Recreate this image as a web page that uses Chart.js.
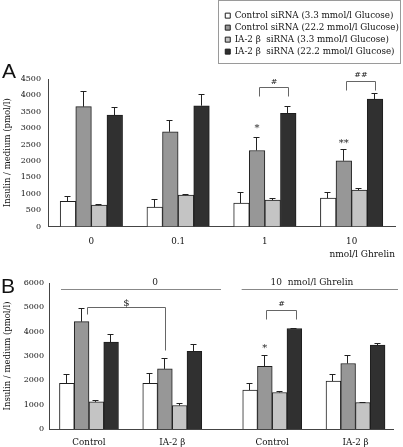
<!DOCTYPE html>
<html><head><meta charset="utf-8">
<script src="https://cdn.jsdelivr.net/npm/chart.js@4"></script>
<style>
html,body{margin:0;padding:0;background:#fff;}
#wrap{position:relative;width:403px;height:447px;background:#fff;overflow:hidden;}
#cA{position:absolute;left:0;top:0;}
#cB{position:absolute;left:0;top:260px;}
#leg{position:absolute;left:218px;top:0px;width:181px;height:62px;border:1px solid #9a9a9a;background:#fff;overflow:hidden;}
#cL{display:block;}
</style></head><body>
<div id="wrap">
<canvas id="cA" width="403" height="260"></canvas>
<canvas id="cB" width="403" height="187"></canvas>
<div id="leg"><canvas id="cL" width="181" height="160"></canvas></div>
</div>
<script>
// ---------------- data ----------------
const seriesNames = [
  'Control siRNA (3.3 mmol/l Glucose)',
  'Control siRNA (22.2 mmol/l Glucose)',
  'IA-2 \u03b2  siRNA (3.3 mmol/l Glucose)',
  'IA-2 \u03b2  siRNA (22.2 mmol/l Glucose)'
];

// Panel A: ghrelin dose (nmol/l)
const catsA = ['0', '0.1', '1', '10'];
const ctl33A = [765, 590, 715, 865];
const ctl33A_err = [170, 235, 335, 175];
const ctl222A = [3655, 2890, 2320, 2005];
const ctl222A_err = [480, 360, 410, 370];
const ia33A = [650, 955, 805, 1110];
const ia33A_err = [40, 35, 60, 70];
const ia222A = [3400, 3685, 3450, 3890];
const ia222A_err = [255, 360, 235, 185];
const yTicksA = [0, 500, 1000, 1500, 2000, 2500, 3000, 3500, 4000, 4500];

// Panel B: siRNA groups, without / with 10 nmol/l ghrelin
const catsB = ['Control', 'IA-2 \u03b2', 'Control', 'IA-2 \u03b2'];
const ctl33B = [1880, 1880, 1600, 1970];
const ctl33B_err = [400, 420, 290, 310];
const ctl222B = [4410, 2470, 2580, 2690];
const ctl222B_err = [580, 450, 450, 360];
const ia33B = [1115, 965, 1500, 1090];
const ia33B_err = [85, 120, 70, 30];
const ia222B = [3570, 3190, 4130, 3450];
const ia222B_err = [320, 310, 20, 95];
const yTicksB = [0, 1000, 2000, 3000, 4000, 5000, 6000];

// ---------------- layout / style ----------------
const groupPosB = [0, 1, 2.2, 3.2];   // group centres on B's x axis (leaves the gap)
const xRangeB = [-0.48, 3.65];
const SERIF = "'DejaVu Serif', serif";
const fills = ['#ffffff', '#979797', '#c4c4c4', '#303030'];
const edge = '#1e1e1e';

function makeSets(valsList, errList, thick, xPos) {
  return valsList.map((vals, i) => ({
    label: seriesNames[i],
    data: xPos ? vals.map((v, j) => ({x: xPos[j], y: v})) : vals,
    vals: vals,
    errors: errList[i],
    backgroundColor: fills[i],
    borderColor: edge,
    borderWidth: 1,
    barThickness: thick
  }));
}

const errorBarPlugin = {
  id: 'errbars',
  afterDatasetsDraw(chart) {
    const ctx = chart.ctx, ys = chart.scales.y;
    ctx.save();
    ctx.strokeStyle = '#222';
    ctx.lineWidth = 1;
    chart.data.datasets.forEach((ds, di) => {
      if (!ds.errors) return;
      const meta = chart.getDatasetMeta(di);
      meta.data.forEach((el, i) => {
        const x = Math.round(el.x) - 0.5;
        const y0 = ys.getPixelForValue(ds.vals[i]);
        const y1 = Math.round(ys.getPixelForValue(ds.vals[i] + ds.errors[i])) + 0.5;
        ctx.beginPath();
        ctx.moveTo(x, y0);
        ctx.lineTo(x, y1);
        ctx.moveTo(x - 3, y1);
        ctx.lineTo(x + 3, y1);
        ctx.stroke();
      });
    });
    ctx.restore();
  }
};

const marksPlugin = {
  id: 'marks',
  afterDraw(chart, args, opts) {
    const ctx = chart.ctx, xs = chart.scales.x, ys = chart.scales.y;
    const bx = (d, g) => chart.getDatasetMeta(d).data[g].x;
    const py = v => Math.round(ys.getPixelForValue(v)) + 0.5;
    ctx.save();
    ctx.textAlign = 'center';
    ctx.textBaseline = 'middle';
    (opts.items || []).forEach(it => {
      if (it.type === 'bracket') {
        const x1 = Math.round(bx(it.d1, it.g1) + it.dx1) + 0.5;
        const x2 = Math.round(bx(it.d2, it.g2) + it.dx2) + 0.5;
        const yt = py(it.top);
        ctx.strokeStyle = '#666';
        ctx.lineWidth = 1;
        ctx.beginPath();
        ctx.moveTo(x1, py(it.left));
        ctx.lineTo(x1, yt);
        ctx.lineTo(x2, yt);
        ctx.lineTo(x2, py(it.right));
        ctx.stroke();
        ctx.fillStyle = '#222';
        ctx.font = (it.size || 8) + 'px ' + SERIF;
        ctx.fillText(it.text, (x1 + x2) / 2, ys.getPixelForValue(it.labelAt));
      } else if (it.type === 'star') {
        ctx.fillStyle = '#222';
        ctx.font = '10px ' + SERIF;
        ctx.fillText(it.text, bx(it.d, it.g), ys.getPixelForValue(it.at));
      } else if (it.type === 'span') {
        const x1 = xs.getPixelForValue(it.from), x2 = xs.getPixelForValue(it.to);
        ctx.strokeStyle = '#888';
        ctx.lineWidth = 1;
        ctx.beginPath();
        ctx.moveTo(x1, py(it.at));
        ctx.lineTo(x2, py(it.at));
        ctx.stroke();
        ctx.fillStyle = '#222';
        ctx.font = '9px ' + SERIF;
        ctx.fillText(it.text, xs.getPixelForValue(it.textAt), ys.getPixelForValue(it.textY));
      } else if (it.type === 'letter') {
        ctx.fillStyle = '#111';
        ctx.font = '21px "Liberation Sans", Arial, sans-serif';
        ctx.fillText(it.text, it.x, it.y);
      }
    });
    ctx.restore();
  }
};

const tickFont = {family: SERIF, size: 8};
const catFont = {family: SERIF, size: 8.75};
const titleFont = {family: SERIF, size: 8.5};
const plainNum = v => String(v);

// ---------------- Panel A ----------------
new Chart(document.getElementById('cA'), {
  type: 'bar',
  data: {
    labels: catsA,
    datasets: makeSets([ctl33A, ctl222A, ia33A, ia222A],
                       [ctl33A_err, ctl222A_err, ia33A_err, ia222A_err], 15.6)
  },
  options: {
    responsive: false, animation: false, devicePixelRatio: 1,
    layout: {padding: {top: 79, right: 8, left: 0, bottom: 0}},
    scales: {
      x: {
        grid: {display: false, drawTicks: false},
        border: {color: '#444'},
        ticks: {font: catFont, color: '#111', padding: 10},
        title: {display: true, text: 'nmol/l Ghrelin', align: 'end', font: {family: SERIF, size: 9}, color: '#111', padding: {top: 1, bottom: 0}},
        afterFit(s) { s.height = 33.5; }
      },
      y: {
        min: 0, max: 4500,
        afterBuildTicks(s) { s.ticks = yTicksA.map(v => ({value: v})); },
        grid: {display: false, drawTicks: false},
        border: {color: '#444'},
        ticks: {font: tickFont, color: '#111', padding: 7, callback: plainNum},
        title: {display: true, text: 'Insulin / medium (pmol/l)', font: titleFont, color: '#111', padding: {top: 3, bottom: 0}},
        afterFit(s) { s.width = 48; }
      }
    },
    plugins: {
      legend: {display: false},
      tooltip: {enabled: false},
      marks: {items: [
        {type: 'letter', text: 'A', x: 9, y: 72},
        {type: 'star', text: '*', d: 1, g: 2, at: 2980},
        {type: 'star', text: '**', d: 1, g: 3, at: 2520},
        {type: 'bracket', text: '#', d1: 1, g1: 2, dx1: 2, d2: 3, g2: 2, dx2: 0, top: 4258, left: 3971, right: 3971, labelAt: 4425},
        {type: 'bracket', text: '##', d1: 1, g1: 3, dx1: 2, d2: 3, g2: 3, dx2: 0, top: 4451, left: 4155, right: 4155, labelAt: 4613}
      ]}
    }
  },
  plugins: [errorBarPlugin, marksPlugin]
});

// ---------------- Panel B ----------------
new Chart(document.getElementById('cB'), {
  type: 'bar',
  data: {
    datasets: makeSets([ctl33B, ctl222B, ia33B, ia222B],
                       [ctl33B_err, ctl222B_err, ia33B_err, ia222B_err], 14.75, groupPosB)
  },
  options: {
    responsive: false, animation: false, devicePixelRatio: 1,
    layout: {padding: {top: 23, right: 10, left: 0, bottom: 0}},
    scales: {
      x: {
        type: 'linear', offset: false,
        min: xRangeB[0], max: xRangeB[1],
        afterBuildTicks(s) { s.ticks = groupPosB.map(v => ({value: v})); },
        grid: {display: false, drawTicks: false, offset: false},
        border: {color: '#444'},
        ticks: {font: catFont, color: '#111', padding: 8, autoSkip: false, maxRotation: 0,
                callback: (v, i) => catsB[i]},
        afterFit(s) { s.height = 18; }
      },
      y: {
        min: 0, max: 6000,
        afterBuildTicks(s) { s.ticks = yTicksB.map(v => ({value: v})); },
        grid: {display: false, drawTicks: false},
        border: {color: '#444'},
        ticks: {font: tickFont, color: '#111', padding: 5, callback: plainNum},
        title: {display: true, text: 'Insulin / medium (pmol/l)', font: titleFont, color: '#111', padding: {top: 3, bottom: 0}},
        afterFit(s) { s.width = 49; }
      }
    },
    plugins: {
      legend: {display: false},
      tooltip: {enabled: false},
      marks: {items: [
        {type: 'letter', text: 'B', x: 8, y: 27},
        {type: 'span', text: '0', from: -0.336, to: 1.585, at: 5745, textAt: 0.793, textY: 6010},
        {type: 'span', text: '10  nmol/l Ghrelin', from: 1.833, to: 3.71, at: 5745, textAt: 2.677, textY: 6010},
        {type: 'bracket', text: '$', size: 10, d1: 1, g1: 0, dx1: 5, d2: 1, g2: 1, dx2: 0, top: 5012, left: 4736, right: 3254, labelAt: 5150},
        {type: 'bracket', text: '#', d1: 1, g1: 2, dx1: 1.5, d2: 3, g2: 2, dx2: 2, top: 4900, left: 4518, right: 4518, labelAt: 5150},
        {type: 'star', text: '*', d: 1, g: 2, at: 3300}
      ]}
    }
  },
  plugins: [errorBarPlugin, marksPlugin]
});

// ---------------- Legend ----------------
new Chart(document.getElementById('cL'), {
  type: 'bar',
  data: {
    labels: [],
    datasets: seriesNames.map((n, i) => ({label: n, data: [], backgroundColor: fills[i], borderColor: edge, borderWidth: 1}))
  },
  options: {
    responsive: false, animation: false, devicePixelRatio: 1,
    layout: {padding: {top: 7, left: 3, right: 0, bottom: 0}},
    scales: {x: {display: false}, y: {display: false}},
    plugins: {
      tooltip: {enabled: false},
      legend: {
        position: 'top', align: 'start', maxHeight: 150,
        labels: {boxWidth: 5, boxHeight: 5, padding: 3.25, color: '#111',
                 font: {family: SERIF, size: 8.75}}
      }
    }
  }
});
</script>
</body></html>
